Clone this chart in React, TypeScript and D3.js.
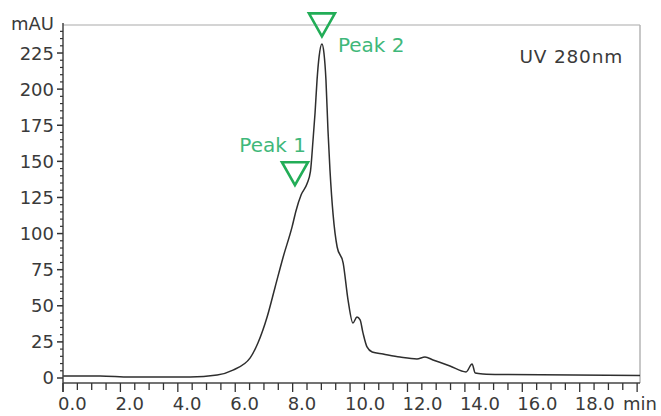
import React from "react";
import * as d3 from "d3";

// Chromatogram trace: retention time (min) vs absorbance (mAU)
const timeMin = [
  0, 1.29, 2.33, 4.43, 5.37, 5.92, 6.52, 6.79, 7.11, 7.39, 7.67, 7.98, 8.12, 8.3, 8.5, 8.62,
  8.71, 8.78, 8.85, 8.92, 9.02, 9.09, 9.16, 9.23, 9.3, 9.41, 9.55, 9.76, 9.93, 10.1, 10.24,
  10.35, 10.45, 10.59, 10.77, 11.15, 11.74, 12.33, 12.61, 12.89, 13.48, 14.04, 14.25, 14.36,
  14.63, 15.23, 20.1,
];
const absorbance = [
  1.4, 1.4, 0.7, 0.7, 2.1, 5.5, 13.9, 24.2, 42.2, 63, 83.8, 104.6, 116, 127, 134.5, 143,
  164.8, 183.5, 206.4, 222.3, 231.3, 225, 206.4, 171.7, 144, 112.9, 90.7, 79.6, 54, 38.1, 42.2,
  40.2, 31.2, 21.5, 18, 16.6, 14.5, 13.2, 14.5, 12.5, 8.3, 4.2, 9.7, 3.5,
  2.8, 2.4, 1.7,
];

// Peak annotations: label, retention time, marker apex height (mAU)
const peakNames = ["Peak 1", "Peak 2"];
const peakTimes = [8.08, 9.02];
const peakMarkerValues = [133.5, 236.5];

const xTickLabels = ["0.0", "2.0", "4.0", "6.0", "8.0", "10.0", "12.0", "14.0", "16.0", "18.0"];
const yTickLabels = [0, 25, 50, 75, 100, 125, 150, 175, 200, 225];

const W = 661;
const H = 416;
const left = 63;
const right = 640;
const top = 25;
const bottom = 383;

const FONT = "'DejaVu Sans', sans-serif";
const TEXT = "#3a3a3a";
const GREEN = "#22ad57";
const GREEN_TEXT = "#3fb87a";

export default function App() {
  const x = d3.scaleLinear().domain([0, 20.1]).range([left, right]);
  const y = d3.scaleLinear().domain([-3.46, 244.4]).range([bottom, top]);

  const pts: [number, number][] = timeMin.map((t, i) => [t, absorbance[i]]);
  const line = d3
    .line<[number, number]>()
    .x((d) => x(d[0]))
    .y((d) => y(d[1]))
    .curve(d3.curveMonotoneX);

  const xMinor = d3.range(0, 20.01, 0.5);
  const yMinor = d3.range(0, 244, 5);

  return (
    <svg
      width={W}
      height={H}
      style={{ position: "absolute", left: 0, top: 0, background: "#fff" }}
      fontFamily={FONT}
    >
      {/* frame */}
      <line x1={left} x2={right} y1={top} y2={top} stroke="#d4d4d4" strokeWidth={2} />
      <line x1={right} x2={right} y1={top} y2={bottom} stroke="#b4b4b4" strokeWidth={1.5} />

      {/* trace */}
      <path d={line(pts) || ""} fill="none" stroke="#2e2e2e" strokeWidth={1.5} />

      {/* y axis */}
      <line x1={left} x2={left} y1={top - 2} y2={bottom + 9} stroke="#444" strokeWidth={1.5} />
      {yMinor.map((v) => {
        const major = v % 25 === 0;
        return (
          <line
            key={"ym" + v}
            x1={left - (major ? 6 : 3)}
            x2={left}
            y1={y(v)}
            y2={y(v)}
            stroke="#333"
            strokeWidth={major ? 1.5 : 1.2}
          />
        );
      })}
      {yTickLabels.map((v) => (
        <text
          key={"yl" + v}
          x={left - 9}
          y={y(v)}
          dy="0.36em"
          textAnchor="end"
          fontSize={18}
          fill={TEXT}
        >
          {v}
        </text>
      ))}
      <text x={left - 9} y={30} textAnchor="end" fontSize={18} fill={TEXT}>
        mAU
      </text>

      {/* x axis */}
      <line x1={left} x2={right} y1={bottom} y2={bottom} stroke="#444" strokeWidth={1.5} />
      {xMinor.map((t) => {
        const major = Math.abs(t % 2) < 1e-6;
        return (
          <line
            key={"xm" + t}
            x1={x(t)}
            x2={x(t)}
            y1={bottom}
            y2={bottom + (major ? 9 : 7)}
            stroke="#333"
            strokeWidth={1.3}
          />
        );
      })}
      {xTickLabels.map((s) => (
        <text key={"xl" + s} x={x(+s) - 5} y={410} textAnchor="start" fontSize={18} fill={TEXT}>
          {s}
        </text>
      ))}
      <text x={623} y={410} fontSize={18} fill={TEXT}>
        min
      </text>

      {/* detector label */}
      <text x={623} y={63} textAnchor="end" fontSize={18.5} fill={TEXT} letterSpacing={0.8}>
        UV 280nm
      </text>

      {/* peak markers */}
      {peakNames.map((name, i) => {
        const px = x(peakTimes[i]);
        const py = y(peakMarkerValues[i]);
        const w = 13;
        const h = 23;
        const tri = `M${px - w},${py - h}L${px + w},${py - h}L${px},${py}Z`;
        return (
          <g key={name}>
            <path d={tri} fill="none" stroke={GREEN} strokeWidth={2.6} strokeLinejoin="miter" />
            {i === 0 ? (
              <text x={px + 11} y={py - 33} textAnchor="end" fontSize={20} fill={GREEN_TEXT}>
                {name}
              </text>
            ) : (
              <text x={px + 16} y={py + 16} textAnchor="start" fontSize={20} fill={GREEN_TEXT}>
                {name}
              </text>
            )}
          </g>
        );
      })}
    </svg>
  );
}
